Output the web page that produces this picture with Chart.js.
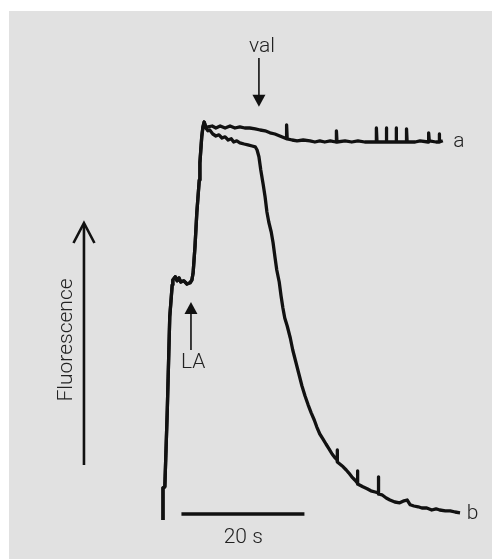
<!DOCTYPE html>
<html>
<head>
<meta charset="utf-8">
<script src="https://cdn.jsdelivr.net/npm/chart.js@4"></script>
<style>
  html, body { margin: 0; padding: 0; background: #fff; }
  #wrap { position: absolute; left: 9px; top: 11px; width: 483px; height: 548px; background: #e1e1e1; }
</style>
</head>
<body>
<div id="wrap"><canvas id="trace" width="483" height="548"></canvas></div>
<script>
// time in s (0 = start of recording), fluorescence in arbitrary units
const timeA = [0, 0, 0.3, 0.7, 1.1, 1.5, 1.6, 2.0, 2.3, 2.6, 2.9, 3.4, 3.9, 4.4, 4.7, 4.9, 5.2, 5.5, 5.9, 6.0, 6.3, 6.5, 6.7, 6.8, 7.0,
  7.3, 8.0, 8.6, 9.3, 10.1, 10.9, 11.7, 12.5, 13.3, 14.1,
  15.0, 15.8, 16.6, 17.4, 18.2, 19.0, 19.8, 20.1, 20.1, 20.2,
  21.0, 21.8, 22.8, 23.9, 24.7, 25.5, 26.3, 27.2, 28.1, 28.2,
  28.2, 28.3, 29.6, 30.7, 31.7, 32.8, 34.0, 34.7, 34.7, 34.8,
  36.3, 36.3, 36.4, 37.9, 37.9, 38.0, 39.5, 39.6, 39.6, 39.7,
  41.0, 41.8, 43.1, 43.2, 43.2, 43.3, 44.4, 44.9, 44.9, 45.0,
  45.5];
const fluorA = [0, 8, 8.3, 27.5, 50.8, 58.8, 60, 60.8, 59.8, 60.5, 59.5, 59.8, 59, 59.3, 60, 61.8, 68.3, 76.8, 85, 89.3, 95.8, 98.3, 99.5, 99.5, 98,
  98.3, 98.5, 98, 98.5, 98, 98.5, 98, 98.3, 98, 98,
  97.8, 97.5, 97.3, 96.8, 96.5, 96, 95.5, 95.3, 98.8, 95.3,
  95, 94.8, 95, 94.8, 94.5, 94.8, 94.5, 94.8, 94.5, 94.5,
  97.3, 94.5, 94.8, 94.5, 94.8, 94.5, 94.5, 94.5, 98, 94.5,
  94.5, 98, 94.5, 94.5, 98, 94.5, 94.5, 94.5, 97.8, 94.5,
  94.5, 94.8, 94.5, 94.5, 96.8, 94.8, 94.5, 94.5, 96.5, 94.5,
  94.8];

const timeB = [0, 0, 0.3, 0.7, 1.1, 1.5, 1.6, 2.0, 2.3, 2.6, 2.9, 3.4, 3.9, 4.4, 4.7, 4.9, 5.2, 5.5, 5.9, 6.0, 6.3, 6.5, 6.7, 6.8, 7.0,
  7.3, 7.6, 8.1, 8.6, 9.1, 9.6, 10.1, 10.6, 11.1, 11.5, 12.0, 12.5, 13.2, 13.8, 14.5, 15.0, 15.3, 15.6, 15.9, 16.3, 16.6,
  16.9, 17.2, 17.6, 17.9, 18.2, 18.5, 18.9, 19.2, 19.5, 19.8, 20.2, 20.7, 21.1, 21.6, 22.1, 22.6, 23.1, 23.6, 24.1, 24.6,
  25.0, 25.5, 26.0, 26.5, 27.0, 27.5, 28.0, 28.3, 28.3, 28.4, 29.3, 29.8, 30.2, 30.7, 31.2, 31.6, 31.6, 31.7, 32.5, 33.2,
  33.8, 34.5, 35.0, 35.0, 35.1, 35.6, 36.3, 36.9, 37.7, 38.5, 39.2, 39.7, 40.2, 40.8, 41.5, 42.1, 42.9, 43.7, 44.4, 45.0,
  45.9, 46.7, 47.5, 48.3];
const fluorB = [0, 8, 8.3, 27.5, 50.8, 58.8, 60, 60.8, 59.8, 60.5, 59.5, 59.8, 59, 59.3, 60, 61.8, 68.3, 76.8, 85, 89.3, 95.8, 98.3, 99.5, 99.5, 98,
  97.3, 97.5, 96.5, 96, 96.3, 95.5, 95.8, 95, 95.3, 94.5, 94.8, 94.3, 94, 93.8, 93.5, 93.3, 92.5, 90.8, 87.5, 83.8, 80.8,
  77, 74.5, 72, 69.3, 65.8, 62.5, 59.5, 56, 53, 50.5, 48.5, 45.5, 42.5, 39.5, 36.5, 33.5, 31, 28.8, 26.8, 25,
  23.3, 21.5, 20.3, 19, 17.8, 16.5, 15.5, 15, 17.5, 14.5, 13.3, 12.5, 11.8, 10.8, 10, 9.3, 12.3, 9, 8.3, 7.8,
  7.3, 7, 6.8, 10.8, 6.5, 6.3, 5.5, 5, 4.5, 4.3, 4.8, 5, 3.8, 3.5, 3.3, 3, 3, 2.5, 2.8, 2.5,
  2.3, 2.3, 2, 1.8];

// 20 s scale bar
const scaleBarTime = [3, 23];
const scaleBarLevel = [1.5, 1.5];

// annotation positions, in data units
const valArrow = { t: 15.6, from: 115.5, to: 103.3 };
const laArrow = { t: 4.55, from: 42.5, to: 54.5 };
const fluorArrow = { t: -12.85, from: 13.75, to: 74.25 };

const toXY = (xs, ys) => xs.map((x, i) => ({ x: x, y: ys[i] }));

const font = '300 21px Roboto, "Open Sans", sans-serif';
const ink = '#111';

const annotations = {
  id: 'annotations',
  afterDatasetsDraw(chart) {
    const { ctx } = chart;
    const x = chart.scales.x, y = chart.scales.y;
    const px = (t) => x.getPixelForValue(t);
    const py = (v) => y.getPixelForValue(v);
    ctx.save();
    ctx.fillStyle = ink;
    ctx.strokeStyle = ink;

    // filled arrow heads (val, LA)
    function solidArrow(a) {
      const xx = px(a.t), y0 = py(a.from), y1 = py(a.to);
      const dir = y1 > y0 ? 1 : -1;
      ctx.lineWidth = 1.6;
      ctx.beginPath();
      ctx.moveTo(xx, y0);
      ctx.lineTo(xx, y1 - dir * 10);
      ctx.stroke();
      ctx.beginPath();
      ctx.moveTo(xx, y1);
      ctx.lineTo(xx - 6.5, y1 - dir * 12);
      ctx.lineTo(xx + 6.5, y1 - dir * 12);
      ctx.closePath();
      ctx.fill();
    }
    solidArrow(valArrow);
    solidArrow(laArrow);

    // open arrow for the fluorescence axis
    const fx = px(fluorArrow.t), fy0 = py(fluorArrow.from), fy1 = py(fluorArrow.to);
    ctx.lineWidth = 2.6;
    ctx.beginPath();
    ctx.moveTo(fx, fy0);
    ctx.lineTo(fx, fy1 + 1);
    ctx.stroke();
    ctx.beginPath();
    ctx.moveTo(fx - 10.5, fy1 + 20);
    ctx.lineTo(fx, fy1);
    ctx.lineTo(fx + 10.5, fy1 + 20);
    ctx.stroke();

    ctx.font = font;
    ctx.fillStyle = '#222';
    ctx.textBaseline = 'alphabetic';
    ctx.textAlign = 'center';
    ctx.fillText('val', px(16.1), py(117));
    ctx.fillText('LA', px(4.9), py(38));
    ctx.fillText('20 s', px(13.05), py(-5.75));
    ctx.textAlign = 'left';
    ctx.fillText('a', px(47.2), py(93.25));
    ctx.fillText('b', px(49.4), py(0.25));

    ctx.save();
    ctx.translate(px(-14.8), py(45));
    ctx.rotate(-Math.PI / 2);
    ctx.textAlign = 'center';
    ctx.fillText('Fluorescence', 0, 0);
    ctx.restore();

    ctx.restore();
  }
};

const traceStyle = {
  borderColor: ink,
  borderWidth: 3.3,
  borderJoinStyle: 'round',
  pointRadius: 0,
  tension: 0,
  fill: false
};

new Chart(document.getElementById('trace'), {
  type: 'line',
  data: {
    datasets: [
      { label: 'a', data: toXY(timeA, fluorA), ...traceStyle },
      { label: 'b', data: toXY(timeB, fluorB), ...traceStyle },
      { label: '20 s', data: toXY(scaleBarTime, scaleBarLevel), ...traceStyle, borderWidth: 3.5, borderCapStyle: 'butt' }
    ]
  },
  options: {
    responsive: false,
    animation: false,
    devicePixelRatio: 1,
    layout: { padding: 0 },
    plugins: { legend: { display: false }, tooltip: { enabled: false } },
    scales: {
      x: { type: 'linear', display: false, min: -25.04, max: 53.5 },
      y: { type: 'linear', display: false, min: -9.75, max: 127.25 }
    }
  },
  plugins: [annotations]
});
</script>
</body>
</html>
